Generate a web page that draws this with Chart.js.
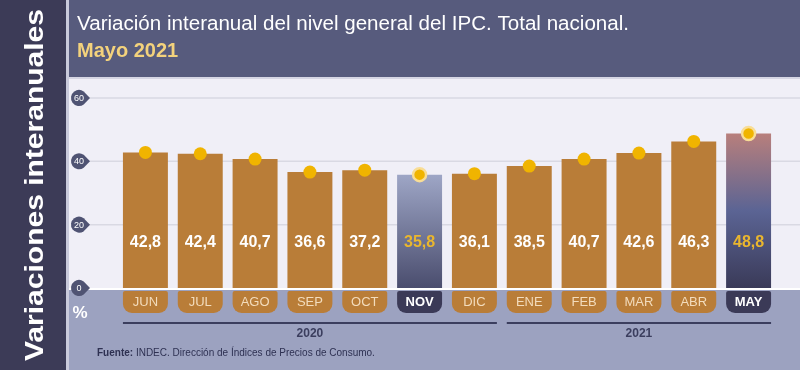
<!DOCTYPE html>
<html lang="es">
<head>
<meta charset="UTF-8">
<title>Variación interanual del IPC</title>
<style>
    body { margin: 0; background: #3c3b57; }
    canvas { display: block; }
</style>
<script src="https://cdn.jsdelivr.net/npm/chart.js"></script>
</head>
<body>
<canvas id="ipcChart" width="800" height="370"></canvas>
<script>
    const months = ['JUN', 'JUL', 'AGO', 'SEP', 'OCT', 'NOV', 'DIC', 'ENE', 'FEB', 'MAR', 'ABR', 'MAY'];
    const values = [42.8, 42.4, 40.7, 36.6, 37.2, 35.8, 36.1, 38.5, 40.7, 42.6, 46.3, 48.8];
    const yTicks = [0, 20, 40, 60];
    const years = [
        { label: '2020', from: 0, to: 6 },
        { label: '2021', from: 7, to: 11 }
    ];
    const highlighted = ['NOV', 'MAY'];

    const FONT = '"Liberation Sans", Arial, sans-serif';
    const BAR = '#b97d38';
    const DOT = '#f0b400';

    function isHi(i) { return highlighted.includes(months[i]); }

    function barFill(context) {
        const i = context.dataIndex;
        const area = context.chart.chartArea;
        if (!area || !isHi(i)) return BAR;
        const y = context.chart.scales.y;
        const top = y.getPixelForValue(values[i]);
        const g = context.chart.ctx.createLinearGradient(0, top, 0, area.bottom);
        if (months[i] === 'MAY') {
            g.addColorStop(0, '#b87f7c');
            g.addColorStop(0.5, '#5b6494');
            g.addColorStop(1, '#3a3a58');
        } else {
            g.addColorStop(0, '#9ea6c6');
            g.addColorStop(1, '#4a4d6e');
        }
        return g;
    }

    // draw text squeezed/stretched to a given width
    function fitText(ctx, text, x, y, width) {
        const w = ctx.measureText(text).width;
        ctx.save();
        ctx.translate(x, y);
        ctx.scale(width / w, 1);
        ctx.fillText(text, 0, 0);
        ctx.restore();
    }

    const decorations = {
        id: 'decorations',
        beforeDraw(chart) {
            const ctx = chart.ctx;
            const y = chart.scales.y;
            const zero = y.getPixelForValue(0);
            ctx.save();
            // left strip
            ctx.fillStyle = '#3c3b57';
            ctx.fillRect(0, 0, 66, 370);
            ctx.fillStyle = '#c9cadb';
            ctx.fillRect(66, 0, 3, 370);
            // header
            ctx.fillStyle = '#575b7d';
            ctx.fillRect(69, 0, 731, 77);
            ctx.fillStyle = '#d6d6e4';
            ctx.fillRect(69, 77, 731, 2);
            // plot background
            ctx.fillStyle = '#f0eff7';
            ctx.fillRect(69, 79, 731, zero - 79 + 1);
            // bottom band
            ctx.fillStyle = '#9ca2c0';
            ctx.fillRect(69, zero + 2, 731, 370 - zero);
            // zero line
            ctx.fillStyle = '#ffffff';
            ctx.fillRect(69, zero, 731, 2);

            // titles
            ctx.fillStyle = '#ffffff';
            ctx.font = '20px ' + FONT;
            ctx.textBaseline = 'alphabetic';
            ctx.textAlign = 'left';
            fitText(ctx, 'Variación interanual del nivel general del IPC. Total nacional.', 77, 30, 552);
            ctx.fillStyle = '#f3d27c';
            ctx.font = 'bold 20px ' + FONT;
            ctx.fillText('Mayo 2021', 77, 57);

            // vertical side label
            ctx.save();
            ctx.translate(36, 185);
            ctx.rotate(-Math.PI / 2);
            ctx.fillStyle = '#ffffff';
            ctx.font = 'bold 26px ' + FONT;
            ctx.textAlign = 'left';
            ctx.textBaseline = 'middle';
            fitText(ctx, 'Variaciones interanuales', -176, 0, 352);
            ctx.restore();

            // gridlines and tick badges
            yTicks.forEach(t => {
                const py = y.getPixelForValue(t);
                if (t !== 0) {
                    ctx.strokeStyle = '#d9d9e3';
                    ctx.lineWidth = 1.5;
                    ctx.beginPath();
                    ctx.moveTo(86, py);
                    ctx.lineTo(800, py);
                    ctx.stroke();
                }
                ctx.fillStyle = '#4f5373';
                ctx.beginPath();
                ctx.arc(79, py, 8, Math.PI * 0.3, Math.PI * 1.7);
                ctx.lineTo(90, py);
                ctx.closePath();
                ctx.fill();
                ctx.fillStyle = '#ffffff';
                ctx.font = '9px ' + FONT;
                ctx.textAlign = 'center';
                ctx.textBaseline = 'middle';
                ctx.fillText(String(t), 79, py + 0.5);
            });
            ctx.restore();
        },
        afterDatasetsDraw(chart) {
            const ctx = chart.ctx;
            const x = chart.scales.x;
            const y = chart.scales.y;
            ctx.save();
            ctx.font = 'bold 16px ' + FONT;
            ctx.textAlign = 'center';
            ctx.textBaseline = 'middle';
            values.forEach((v, i) => {
                ctx.fillStyle = isHi(i) ? '#e9b62e' : '#ffffff';
                ctx.fillText(v.toFixed(1).replace('.', ','), x.getPixelForValue(i), y.getPixelForValue(14.3));
            });
            ctx.restore();
        },
        afterDraw(chart) {
            const ctx = chart.ctx;
            const x = chart.scales.x;
            const zero = chart.scales.y.getPixelForValue(0);
            const bars = chart.getDatasetMeta(1).data;
            ctx.save();
            // month pills
            months.forEach((m, i) => {
                const cx = x.getPixelForValue(i);
                const bw = bars[i].width;
                ctx.fillStyle = isHi(i) ? '#3b3a57' : BAR;
                ctx.beginPath();
                ctx.roundRect(cx - bw / 2, zero + 3, bw, 22, [2, 2, 9, 9]);
                ctx.fill();
                ctx.fillStyle = isHi(i) ? '#ffffff' : '#f3dcbc';
                ctx.font = (isHi(i) ? 'bold ' : '') + '13px ' + FONT;
                ctx.textAlign = 'center';
                ctx.textBaseline = 'middle';
                ctx.fillText(m, cx, zero + 14);
            });
            // percent sign
            ctx.fillStyle = '#ffffff';
            ctx.font = 'bold 17px ' + FONT;
            ctx.textAlign = 'center';
            ctx.fillText('%', 80, 313);
            // year groups
            years.forEach(g => {
                const left = x.getPixelForValue(g.from) - bars[g.from].width / 2;
                const right = x.getPixelForValue(g.to) + bars[g.to].width / 2;
                ctx.strokeStyle = '#3b3e5e';
                ctx.lineWidth = 2;
                ctx.beginPath();
                ctx.moveTo(left, 323);
                ctx.lineTo(right, 323);
                ctx.stroke();
                ctx.fillStyle = '#3b3e5e';
                ctx.font = 'bold 12px ' + FONT;
                ctx.fillText(g.label, (left + right) / 2, 334);
            });
            // source
            ctx.textAlign = 'left';
            ctx.fillStyle = '#2e3152';
            ctx.font = 'bold 10px ' + FONT;
            ctx.fillText('Fuente:', 97, 353);
            const fw = ctx.measureText('Fuente: ').width;
            ctx.font = '10px ' + FONT;
            ctx.fillText('INDEC. Dirección de Índices de Precios de Consumo.', 97 + fw, 353);
            ctx.restore();
        }
    };

    new Chart(document.getElementById('ipcChart'), {
        type: 'bar',
        data: {
            labels: months,
            datasets: [
                {
                    type: 'line',
                    data: values,
                    showLine: false,
                    order: 0,
                    pointRadius: months.map((m, i) => isHi(i) ? 6.5 : 6.5),
                    pointBackgroundColor: DOT,
                    pointBorderColor: months.map((m, i) => isHi(i) ? '#f8dd96' : DOT),
                    pointBorderWidth: months.map((m, i) => isHi(i) ? 2.5 : 0)
                },
                {
                    type: 'bar',
                    data: values,
                    order: 1,
                    backgroundColor: barFill,
                    barPercentage: 0.82,
                    categoryPercentage: 1
                }
            ]
        },
        options: {
            responsive: false,
            animation: false,
            layout: { padding: { left: 118, right: 24, top: 98, bottom: 82 } },
            plugins: { legend: { display: false }, tooltip: { enabled: false } },
            scales: {
                x: { display: false, offset: true },
                y: { display: false, min: 0, max: 60 }
            }
        },
        plugins: [decorations]
    });
</script>
</body>
</html>
